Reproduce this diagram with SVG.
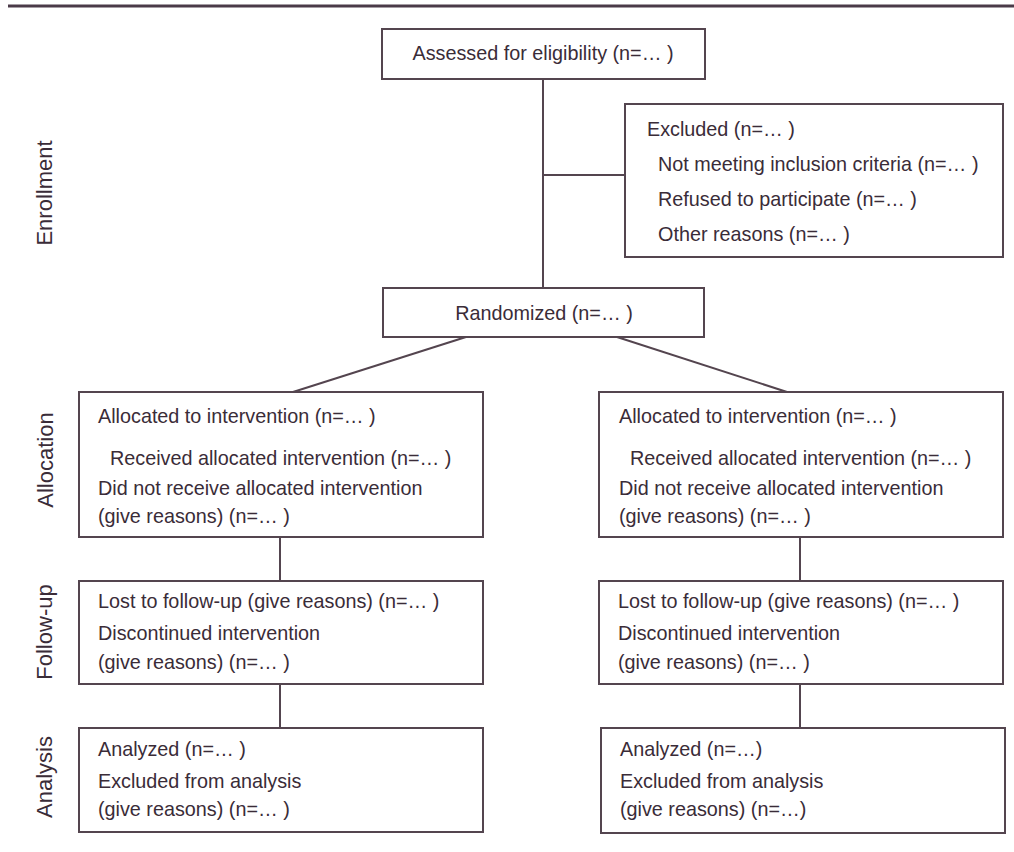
<svg xmlns="http://www.w3.org/2000/svg" width="1014" height="852" viewBox="0 0 1014 852">
<style>
.box{fill:#ffffff;stroke:#54454f;stroke-width:2}
.ln{stroke:#54454f;stroke-width:2;fill:none}
.t{font-family:"Liberation Sans",Arial,sans-serif;font-size:19.8px;fill:#3a2c38}
.c{text-anchor:middle}
.side{font-family:"Liberation Sans",Arial,sans-serif;font-size:22px;fill:#3a2c38;text-anchor:middle}
</style>
<rect width="1014" height="852" fill="#ffffff"/>
<line x1="8" y1="6" x2="1014" y2="6" stroke="#4a3a48" stroke-width="3"/>
<g id="labels">
<text class="side" transform="translate(52,193) rotate(-90)">Enrollment</text>
<text class="side" transform="translate(53,460) rotate(-90)">Allocation</text>
<text class="side" transform="translate(52,632) rotate(-90)">Follow-up</text>
<text class="side" transform="translate(52,777) rotate(-90)">Analysis</text>
</g>
<g id="connectors">
<line class="ln" x1="543" y1="79" x2="543" y2="288"/>
<line class="ln" x1="543" y1="175" x2="625" y2="175"/>
<line class="ln" x1="466" y1="337" x2="293" y2="392"/>
<line class="ln" x1="617" y1="337" x2="787" y2="392"/>
<line class="ln" x1="280" y1="537" x2="280" y2="581"/>
<line class="ln" x1="280" y1="684" x2="280" y2="728"/>
<line class="ln" x1="800" y1="537" x2="800" y2="581"/>
<line class="ln" x1="800" y1="684" x2="800" y2="728"/>
</g>
<g id="assessed">
<rect class="box" x="382" y="29" width="323" height="50"/>
<text class="t c" x="543" y="60">Assessed for eligibility (n=… )</text>
</g>
<g id="excluded">
<rect class="box" x="625" y="104" width="378" height="153"/>
<text class="t" x="647" y="136">Excluded (n=… )</text>
<text class="t" x="658" y="171">Not meeting inclusion criteria (n=… )</text>
<text class="t" x="658" y="206">Refused to participate (n=… )</text>
<text class="t" x="658" y="241">Other reasons (n=… )</text>
</g>
<g id="randomized">
<rect class="box" x="383" y="288" width="321" height="49"/>
<text class="t c" x="544" y="320">Randomized (n=… )</text>
</g>
<g id="alloc-left">
<rect class="box" x="79" y="392" width="404" height="145"/>
<text class="t" x="98" y="423">Allocated to intervention (n=… )</text>
<text class="t" x="110" y="465">Received allocated intervention (n=… )</text>
<text class="t" x="98" y="495">Did not receive allocated intervention</text>
<text class="t" x="98" y="523">(give reasons) (n=… )</text>
</g>
<g id="alloc-right">
<rect class="box" x="599" y="392" width="404" height="145"/>
<text class="t" x="619" y="423">Allocated to intervention (n=… )</text>
<text class="t" x="630" y="465">Received allocated intervention (n=… )</text>
<text class="t" x="619" y="495">Did not receive allocated intervention</text>
<text class="t" x="619" y="523">(give reasons) (n=… )</text>
</g>
<g id="followup-left">
<rect class="box" x="79" y="581" width="404" height="103"/>
<text class="t" x="98" y="608">Lost to follow-up (give reasons) (n=… )</text>
<text class="t" x="98" y="640">Discontinued intervention</text>
<text class="t" x="98" y="669">(give reasons) (n=… )</text>
</g>
<g id="followup-right">
<rect class="box" x="599" y="581" width="404" height="103"/>
<text class="t" x="618" y="608">Lost to follow-up (give reasons) (n=… )</text>
<text class="t" x="618" y="640">Discontinued intervention</text>
<text class="t" x="618" y="669">(give reasons) (n=… )</text>
</g>
<g id="analysis-left">
<rect class="box" x="79" y="728" width="404" height="104"/>
<text class="t" x="98" y="756">Analyzed (n=… )</text>
<text class="t" x="98" y="788">Excluded from analysis</text>
<text class="t" x="98" y="816">(give reasons) (n=… )</text>
</g>
<g id="analysis-right">
<rect class="box" x="601" y="728" width="404" height="105"/>
<text class="t" x="620" y="756">Analyzed (n=…)</text>
<text class="t" x="620" y="788">Excluded from analysis</text>
<text class="t" x="620" y="816">(give reasons) (n=…)</text>
</g>
</svg>
